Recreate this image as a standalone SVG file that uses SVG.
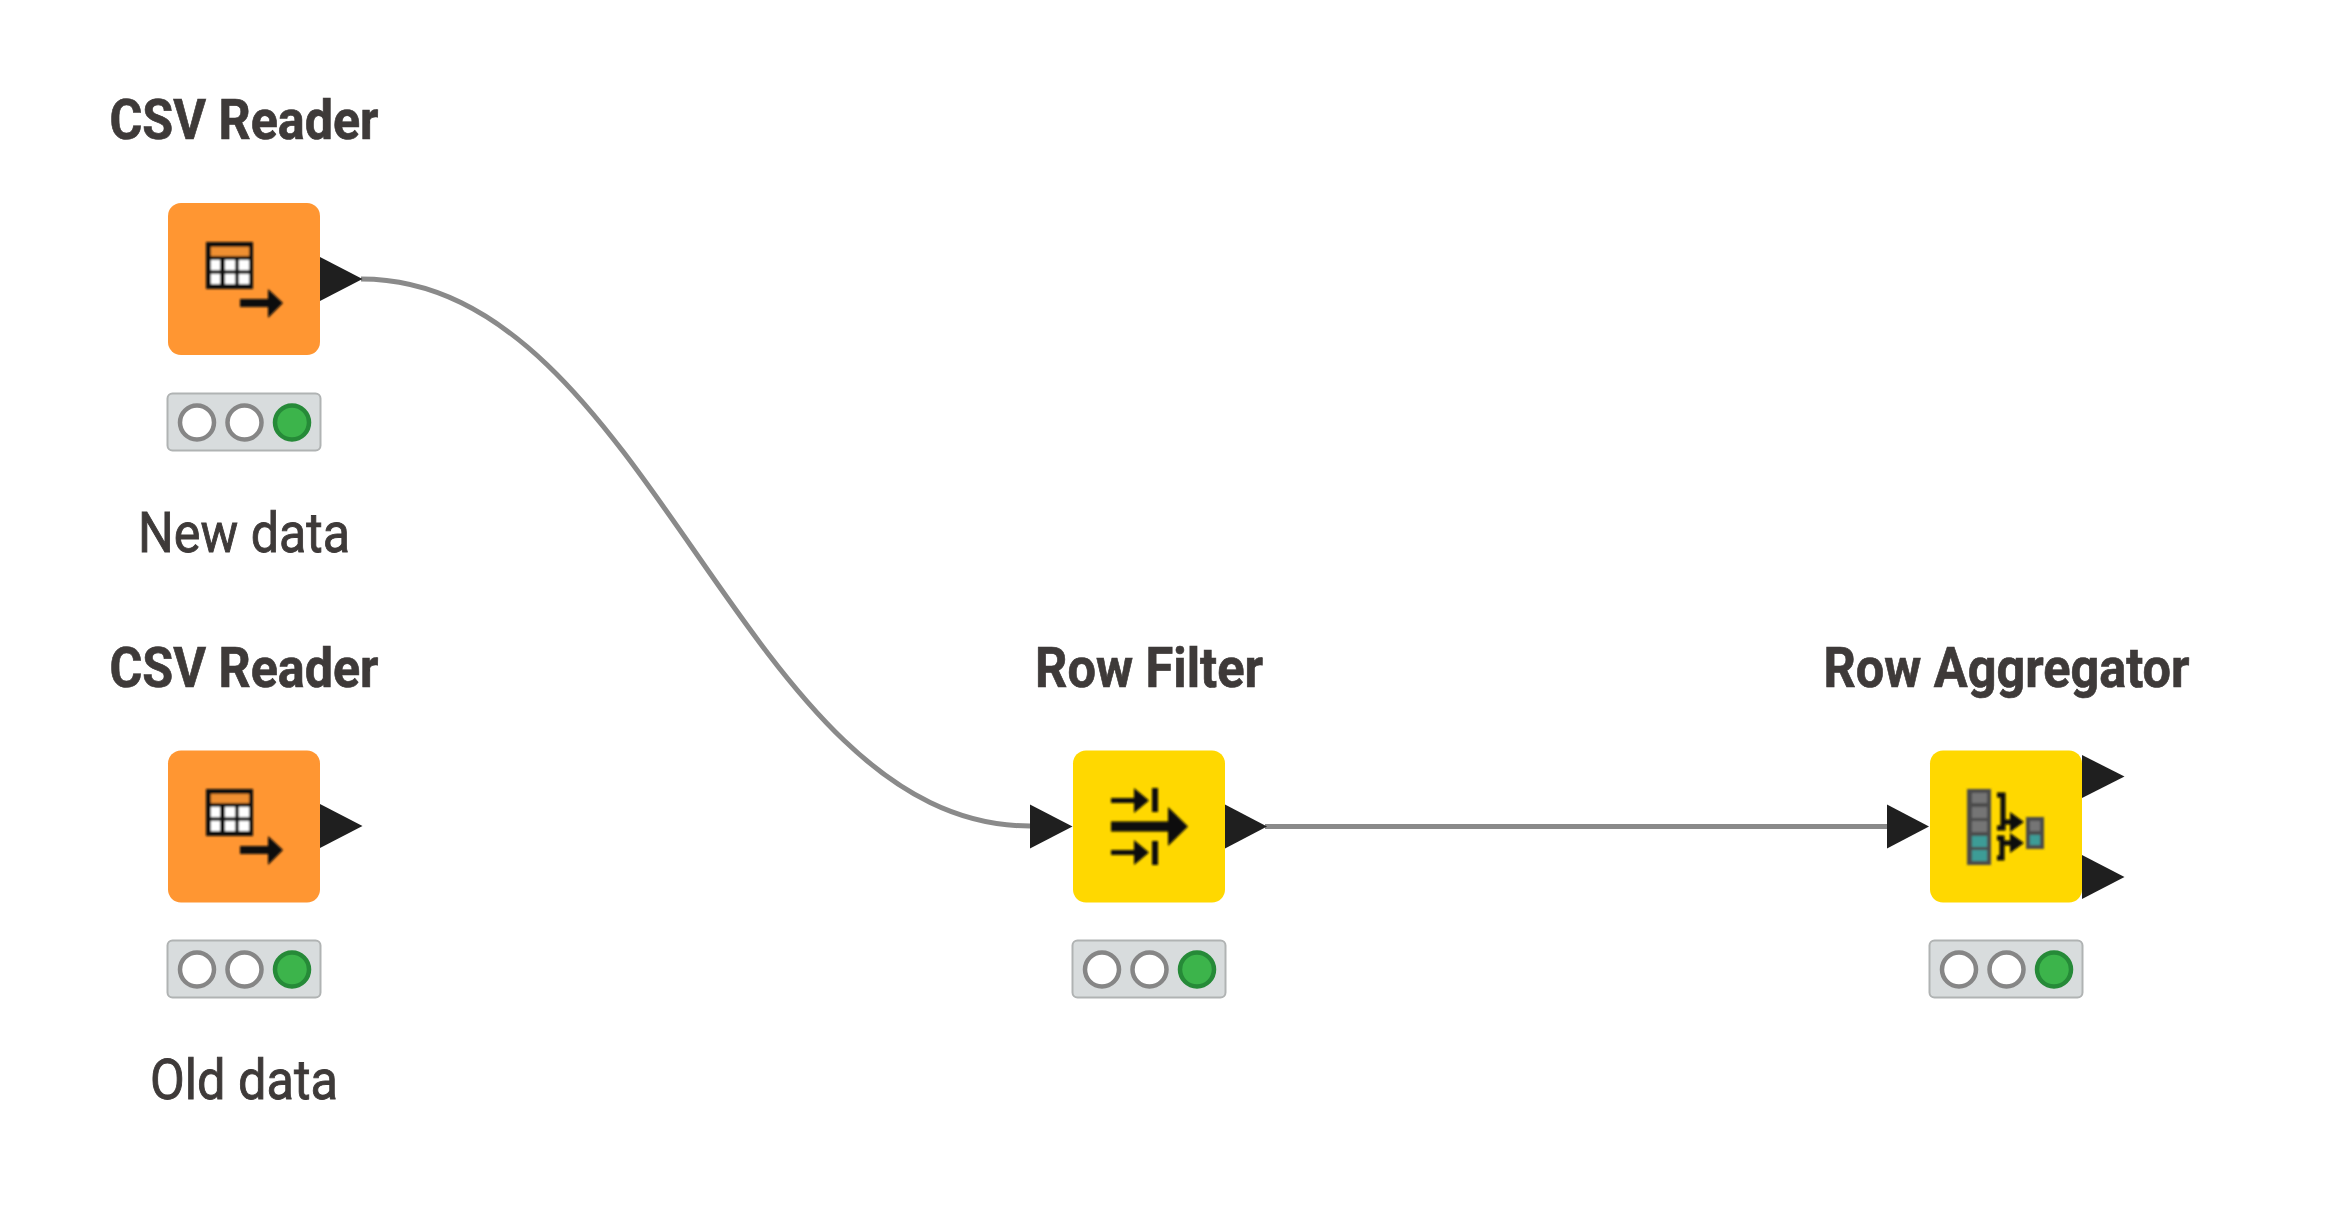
<svg xmlns="http://www.w3.org/2000/svg" width="2342" height="1223" viewBox="0 0 2342 1223">
<style>
text{font-family:Roboto,"Liberation Sans",sans-serif;fill:#3e3a39;stroke:#3e3a39;text-anchor:middle}
.t{font-size:56px;font-weight:700;stroke-width:.7px}
.l{font-size:56px;font-weight:400;stroke-width:.9px}
.reader{fill:#ff9632}
.mgr{fill:#ffd800}
.bar{fill:#d8dcdd;stroke:#b0b3b3;stroke-width:2}
.off{fill:#fff;stroke:#868686;stroke-width:4.5}
.on{fill:#3cb44b;stroke:#268a38;stroke-width:4.5}
.port{fill:#1f1f1f}
.wire{fill:none;stroke:#8a8a8a;stroke-width:5}
.k{stroke:#0a0a0a;fill:none}
.kf{fill:#0a0a0a}
.icon{filter:url(#soft)}
</style>
<defs>
<filter id="soft" x="-10%" y="-10%" width="120%" height="120%"><feGaussianBlur stdDeviation="0.8"/></filter>
<g id="status"><rect class="bar" x="0" y="0" width="153" height="57" rx="5"/><circle class="off" cx="29.500" cy="29" r="17"/><circle class="off" cx="77" cy="29" r="17"/><circle class="on" cx="124.500" cy="29" r="17"/></g>
<g id="readerIcon" class="icon">
<rect x="0" y="0" width="47" height="47" fill="#0a0a0a"/>
<rect x="5" y="5" width="38" height="9" fill="#ef8f33"/>
<path fill="#fff" d="M5 18h9v10h-9zM19 18h10v10h-10zM33 18h10v10h-10zM5 32h9v10h-9zM19 32h10v10h-10zM33 32h10v10h-10z"/>
<path class="k" d="M34 61H68" stroke-width="8"/>
<path class="kf" d="M62 47L77 61L62 76Z"/>
</g>
</defs>
<g id="connectors">
<path class="wire" d="M361 279C650 279 741 826 1030 826"/>
<path class="wire" d="M1265 826.500H1887"/>
</g>
<g id="csv-reader-new">
<text class="t" x="244" y="139" textLength="269" lengthAdjust="spacingAndGlyphs">CSV Reader</text>
<rect class="reader" x="168" y="203" width="152" height="152" rx="13"/>
<use href="#readerIcon" x="206" y="242"/>
<path class="port" d="M320 257L362.500 279L320 301Z"/>
<use href="#status" x="167.500" y="393.500"/>
<text class="l" x="244" y="552" textLength="212" lengthAdjust="spacingAndGlyphs">New data</text>
</g>
<g id="csv-reader-old">
<text class="t" x="244" y="687" textLength="269" lengthAdjust="spacingAndGlyphs">CSV Reader</text>
<rect class="reader" x="168" y="750.500" width="152" height="152" rx="13"/>
<use href="#readerIcon" x="206" y="789"/>
<path class="port" d="M320 804L362.500 826L320 848Z"/>
<use href="#status" x="167.500" y="940.500"/>
<text class="l" x="244" y="1099" textLength="188" lengthAdjust="spacingAndGlyphs">Old data</text>
</g>
<g id="row-filter">
<text class="t" x="1149" y="687" textLength="228" lengthAdjust="spacingAndGlyphs">Row Filter</text>
<rect class="mgr" x="1073" y="750.500" width="152" height="152" rx="13"/>
<path class="port" d="M1030 804.500L1072.500 826.500L1030 848.500Z"/>
<path class="port" d="M1225 804.500L1267 826.500L1225 848.500Z"/>
<g class="icon">
<path class="k" d="M1111 826.500H1174" stroke-width="10"/>
<path class="kf" d="M1168 807L1188 826.500L1168 846Z"/>
<path class="k" d="M1111 800.500H1140M1111 852.500H1140" stroke-width="5"/>
<path class="kf" d="M1134 788L1149 800.500L1134 813ZM1134 840L1149 852.500L1134 865Z"/>
<path class="k" d="M1155 788V812M1155 841V865" stroke-width="6"/>
</g>
<use href="#status" x="1072.500" y="940.500"/>
</g>
<g id="row-aggregator">
<text class="t" x="2006.500" y="687" textLength="366" lengthAdjust="spacingAndGlyphs">Row Aggregator</text>
<rect class="mgr" x="1930" y="750.500" width="152" height="152" rx="13"/>
<path class="port" d="M1887 804.500L1929 826.500L1887 848.500Z"/>
<path class="port" d="M2082 755L2124.500 776.500L2082 798Z"/>
<path class="port" d="M2082 855L2124.500 877L2082 899Z"/>
<g class="icon">
<rect x="1967" y="789" width="24" height="76" fill="#4b4b4b"/>
<path fill="#757575" d="M1972 793h15v10h-15zM1972 807h15v11h-15zM1972 821h15v11h-15z"/>
<path fill="#3c9c96" d="M1972 836h15v11h-15zM1972 850h15v11h-15z"/>
<rect x="2026" y="817" width="18" height="32" fill="#4b4b4b"/>
<rect x="2030" y="821" width="10" height="10" fill="#757575"/>
<rect x="2030" y="835" width="10" height="10" fill="#3c9c96"/>
<path class="k" stroke-width="5" d="M1997 795H2003V828H1997M1997 838H2002V858H1997M2003 822H2016M2002 843H2016"/>
<path class="kf" d="M2010 812L2024 822L2010 832ZM2010 833L2024 843L2010 853Z"/>
</g>
<use href="#status" x="1929.500" y="940.500"/>
</g>
</svg>
